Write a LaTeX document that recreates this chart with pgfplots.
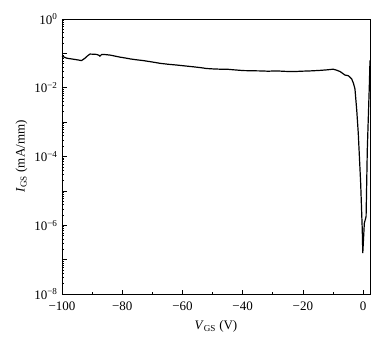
\documentclass[border=0pt]{standalone}
\usepackage{pgfplots}
\pgfplotsset{compat=1.18}
\usepackage{fontspec}
\setmainfont{Liberation Serif}
\begin{document}
\fontsize{13}{15}\selectfont
\begin{tikzpicture}
\useasboundingbox (-62pt,-49pt) rectangle (326pt,294pt);
\begin{axis}[
  at={(0pt,0pt)}, anchor=south west,
  scale only axis, width=308pt, height=275pt,
  ymode=log, log basis y=10,
  xmin=-100, xmax=2.3, ymin=1e-8, ymax=1,
  xtick={-100,-80,-60,-40,-20,0},
  xticklabels={−100,−80,−60,−40,−20,0},
  minor x tick num=1,
  ytick={1,1e-1,1e-2,1e-3,1e-4,1e-5,1e-6,1e-7,1e-8},
  yticklabels={10\textsuperscript{0},,10\textsuperscript{−2},,10\textsuperscript{−4},,10\textsuperscript{−6},,10\textsuperscript{−8}},
  minor ytick={
   2e-8,3e-8,4e-8,5e-8,6e-8,7e-8,8e-8,9e-8,
   2e-7,3e-7,4e-7,5e-7,6e-7,7e-7,8e-7,9e-7,
   2e-6,3e-6,4e-6,5e-6,6e-6,7e-6,8e-6,9e-6,
   2e-5,3e-5,4e-5,5e-5,6e-5,7e-5,8e-5,9e-5,
   2e-4,3e-4,4e-4,5e-4,6e-4,7e-4,8e-4,9e-4,
   2e-3,3e-3,4e-3,5e-3,6e-3,7e-3,8e-3,9e-3,
   2e-2,3e-2,4e-2,5e-2,6e-2,7e-2,8e-2,9e-2,
   2e-1,3e-1,4e-1,5e-1,6e-1,7e-1,8e-1,9e-1},
  xtick pos=bottom, ytick pos=left,
  tick align=inside,
  major tick length=4.5pt, minor tick length=2.5pt,
  axis line style={line width=0.8pt},
  tick style={black, line width=0.7pt},
  ticklabel style={font=\fontsize{13}{15}\selectfont},
  xticklabel style={yshift=-3pt},
  xlabel={\textit{V}\textsubscript{GS} (V)},
  ylabel={\textit{I}\textsubscript{GS} (mA/mm)},
  label style={font=\fontsize{13}{15}\selectfont},
  xlabel style={yshift=-1pt},
  ylabel style={yshift=-2pt},
]
\addplot[black, line width=1.2pt] coordinates {
(-100,0.083) (-98.4,0.0724) (-96.2,0.0676) (-94.5,0.0640) (-93.5,0.0617)
(-92.4,0.0721) (-91.5,0.085) (-90.7,0.0955) (-89.5,0.0945) (-88.5,0.0933)
(-87.6,0.0870) (-87.4,0.0832) (-86.8,0.0933) (-85.5,0.0920) (-84,0.0891)
(-82.3,0.083) (-80.7,0.0776) (-79,0.0735) (-77.4,0.0692) (-75.2,0.0650)
(-73,0.0617) (-70.2,0.0565) (-67.4,0.0513) (-64.5,0.0480) (-61.8,0.0457)
(-59,0.0430) (-56.4,0.0407) (-54,0.0385) (-52,0.0363) (-49.5,0.0352)
(-47.5,0.0347) (-45.3,0.0347) (-42.5,0.0330) (-39.8,0.0316) (-37,0.0312)
(-34.2,0.0309) (-31.5,0.0303) (-28.7,0.0309) (-26,0.0300) (-23.2,0.0295)
(-20.4,0.0303) (-17.6,0.0309) (-14.8,0.0318) (-12.1,0.0331) (-9.9,0.0347)
(-8.6,0.0320) (-7.6,0.0295) (-6.8,0.0262) (-6.0,0.0234) (-4.9,0.0224)
(-3.8,0.0182) (-3.2,0.0135) (-2.7,0.0093) (-2.1,0.0022) (-1.6,4.8e-4)
(-1.2,9e-5) (-0.8,1.66e-5) (-0.27,7.4e-7) (-0.1,1.55e-7) (0.42,1.15e-6)
(1.0,1.78e-6) (1.4,1.55e-4) (2.1,0.0135) (2.3,0.063)
};
\end{axis}
\end{tikzpicture}
\end{document}
